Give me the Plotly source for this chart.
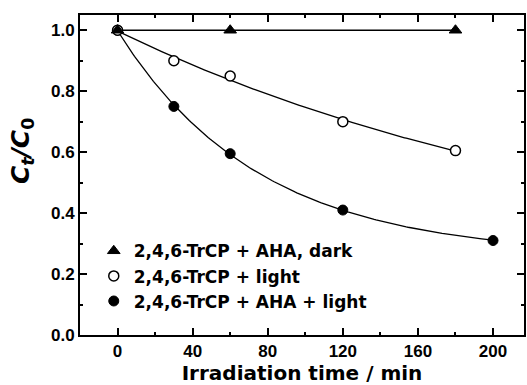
import numpy as np
import plotly.graph_objects as go

# Data
time_dark = [0, 60, 180]
c_dark = [1.0, 1.0, 1.0]

time_light = [0, 30, 60, 120, 180]
c_light = [1.0, 0.90, 0.85, 0.70, 0.605]

time_aha = [0, 30, 60, 120, 200]
c_aha = [1.0, 0.75, 0.595, 0.41, 0.31]

names = ["2,4,6-TrCP + AHA, dark", "2,4,6-TrCP + light", "2,4,6-TrCP + AHA + light"]

x_ticks = [0, 40, 80, 120, 160, 200]
y_ticks = [0.0, 0.2, 0.4, 0.6, 0.8, 1.0]


def exp_fit(t, c):
    """Least-squares fit of c = a + b*exp(-k t) (grid search on k)."""
    t = np.asarray(t, float)
    c = np.asarray(c, float)
    best = None
    for k in np.linspace(0.0005, 0.05, 2000):
        A = np.column_stack([np.ones_like(t), np.exp(-k * t)])
        coef, *_ = np.linalg.lstsq(A, c, rcond=None)
        err = np.sum((A @ coef - c) ** 2)
        if best is None or err < best[0]:
            best = (err, k, coef)
    _, k, (a, b) = best
    tt = np.linspace(t.min(), t.max(), 200)
    return tt, a + b * np.exp(-k * tt)


fig = go.Figure()

line_style = dict(color="black", width=1.3)

fx, fy = exp_fit(time_aha, c_aha)
fig.add_trace(go.Scatter(x=fx, y=fy, mode="lines", line=line_style, showlegend=False, hoverinfo="skip"))
fx, fy = exp_fit(time_light, c_light)
fig.add_trace(go.Scatter(x=fx, y=fy, mode="lines", line=line_style, showlegend=False, hoverinfo="skip"))
fig.add_trace(go.Scatter(x=[time_dark[0], time_dark[-1]], y=[c_dark[0], c_dark[-1]], mode="lines", line=line_style,
                         showlegend=False, hoverinfo="skip"))

# Markers
fig.add_trace(go.Scatter(x=time_aha, y=c_aha, mode="markers", name=names[2], legendrank=3,
                         marker=dict(symbol="circle", size=10, color="black", line=dict(color="black", width=1))))
fig.add_trace(go.Scatter(x=time_light, y=c_light, mode="markers", name=names[1], legendrank=2,
                         marker=dict(symbol="circle", size=10, color="white", line=dict(color="black", width=1.5))))
fig.add_trace(go.Scatter(x=time_dark, y=c_dark, mode="markers", name=names[0], legendrank=1,
                         marker=dict(symbol="triangle-up", size=11, color="black", line=dict(color="black", width=1))))

tickfont = dict(family="Liberation Sans", size=17, color="black", weight="bold")

axis_common = dict(
    showline=True, linecolor="black", linewidth=2, mirror="ticks",
    ticks="inside", ticklen=7, tickwidth=1.5, tickcolor="black",
    showgrid=False, zeroline=False, tickfont=tickfont,
)

fig.update_xaxes(
    range=[-20, 216.5], tickvals=x_ticks,
    minor=dict(ticks="inside", ticklen=3, tickwidth=1.5, tickcolor="black", dtick=20, tick0=0),
    title=dict(text="Irradiation time / min", standoff=6,
               font=dict(family="DejaVu Sans", size=20, color="black", weight="bold")),
    **axis_common,
)
fig.update_yaxes(
    range=[0, 1.05], tickvals=y_ticks, tickformat=".1f",
    minor=dict(ticks="inside", ticklen=3, tickwidth=1.5, tickcolor="black", dtick=0.1, tick0=0),
    **axis_common,
)

fig.add_annotation(
    text="<i>C</i><sub><i>t</i></sub><i>/C</i><sub>0</sub>",
    xref="paper", yref="paper", x=0, y=0.575, xshift=-58,
    xanchor="center", yanchor="middle", textangle=-90, showarrow=False,
    font=dict(family="DejaVu Sans", size=25, color="black", weight="bold"),
)

fig.update_layout(
    width=527, height=385,
    margin=dict(l=80, r=1, t=15, b=50),
    plot_bgcolor="white", paper_bgcolor="white",
    legend=dict(x=0.031, y=0.318, xanchor="left", yanchor="top",
                bgcolor="rgba(0,0,0,0)", borderwidth=0, tracegroupgap=0,
                font=dict(family="DejaVu Sans", size=17, color="black", weight="bold")),
)

fig.write_html("out.html")
